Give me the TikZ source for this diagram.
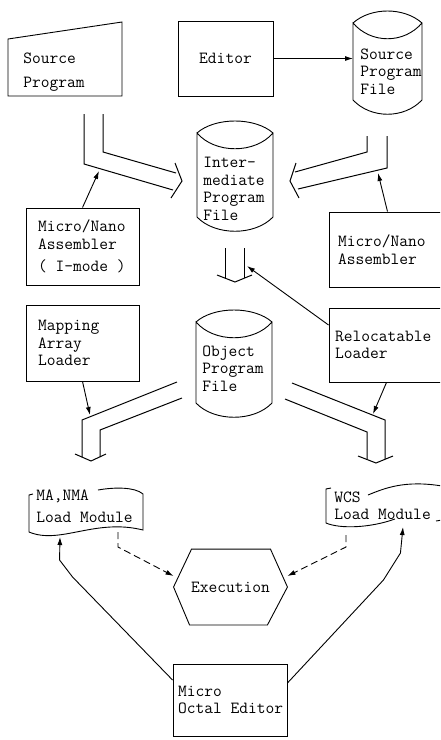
\documentclass[tikz,border=0pt]{standalone}
\usepackage{fontspec}
\usetikzlibrary{arrows.meta}
\hyphenpenalty=10000 \exhyphenpenalty=10000

\tikzset{
  box/.style={draw, align=flush left, inner ysep=0pt},
  txt/.style={anchor=north west, inner sep=0pt, align=left},
  flow/.style={-{Latex[length=8pt,width=5pt]}},
  ghost/.style={flow, dash pattern=on 7pt off 4pt},
  pipe/.style={line width=1pt}
}

% file drum: left x, right x, top of sides, bottom of sides
\newcommand{\drum}[4]{%
  \draw (#1,#3) .. controls +(18,-16) and +(-18,-16) .. (#2,#3)
    .. controls +(-18,21) and +(18,21) .. (#1,#3) -- (#1,#4)
    .. controls +(18,19) and +(-18,19) .. (#2,#4) -- (#2,#3);}

\begin{document}
\begin{tikzpicture}[x=1pt, y=-1pt, line width=0.9pt, font=\ttfamily\fontsize{17}{17.5}\selectfont]
\clip (0,0) rectangle (440,740);

% top row
\draw (8,39) -- (122,22) -- (122,96) -- (8,96) -- cycle;
\node[txt] (src) at (23,52) {Source\\[6.5pt]Program};
\node[box, minimum width=95pt, minimum height=75pt, align=center] (editor) at (225.5,58.5) {Editor};
\drum{353}{422}{23}{100}
\node[txt] (spf) at (360,48) {Source\\Program\\File};
\draw[flow] (editor.east) -- ([xshift=-7pt]editor.east -| spf.west);

% intermediate file and assemblers
\drum{197}{273}{133}{217}
\node[txt] (ipf) at (203,157) {Inter-\\mediate\\Program\\File};
\node[box, text width=89pt, inner xsep=12pt, minimum height=77pt] (asmI) at (82.5,246.5) {Micro/Nano\\Assembler\\[5pt](~I-mode~)};
\node[box, text width=99pt, inner xsep=9pt, minimum height=75pt] (asmR) at (387.5,249.5) {Micro/Nano\\Assembler};

\draw[pipe] (84,114) -- (84,164) -- (173,190);
\draw[pipe] (103,114) -- (103,152) -- (176,173);
\draw[pipe] (175,163) -- (182,181) -- (171,198);
\draw[pipe] (367,136) -- (367,152) -- (295,172);
\draw[pipe] (387,136) -- (387,168) -- (298,189);
\draw[pipe] (296,163) -- (290,181) -- (299,198);
\coordinate (lpipe) at (99,171);
\coordinate (rpipe) at (378,173);
\draw[flow] (asmI.north) -- (lpipe);
\draw[flow] (asmR.north) -- (rpipe);

% object file and loaders
\draw[pipe] (225,248) -- (225,278);
\draw[pipe] (244,248) -- (244,278);
\draw[pipe] (217,275) -- (235,282) -- (252,275);
\coordinate (mpipe) at (247,266);
\drum{196}{272}{322}{403}
\node[txt] (opf) at (202,345) {Object\\Program\\File};
\node[box, text width=89pt, inner xsep=12pt, minimum height=76pt] (mal) at (82.5,343) {Mapping\\Array\\Loader};
\node[box, text width=103pt, inner xsep=6pt, minimum height=74pt] (reloc) at (386.5,345) {Relocatable\\Loader};
\draw[flow] ([yshift=20pt]reloc.west) -- (mpipe);

\draw[pipe] (177,382) -- (82,420) -- (82,457);
\draw[pipe] (182,398) -- (100,430) -- (100,457);
\draw[pipe] (75,454) -- (91,461) -- (106,454);
\draw[pipe] (292,383) -- (385,420) -- (385,459);
\draw[pipe] (285,399) -- (367,432) -- (367,459);
\draw[pipe] (358,456) -- (376,463) -- (393,456);
\coordinate (blpipe) at (90,415);
\coordinate (brpipe) at (373,414);
\draw[flow] (mal.south) -- (blpipe);
\draw[flow] (reloc.south) -- (brpipe);

% load modules
\draw (33,494) -- (29,495) -- (29,532) .. controls (60,545) and (95,518) .. (143,530)
  -- (143,494) .. controls (135,487) and (115,487) .. (98,490);
\node[txt] (manma) at (36,489) {MA,NMA\\[5pt]Load Module};
\draw (331,488) -- (326,489) -- (326,523) .. controls (340,529) and (370,528) .. (395,519);
\draw (368,495) .. controls (385,488) and (405,480) .. (442,486) -- (442,520) -- (436,521);
\node[txt] (wcs) at (334,491) {WCS\\Load Module};
\coordinate (ma-out) at (118,532);
\coordinate (wcs-out) at (346,535);
\coordinate (ma-in) at (60,537);
\coordinate (wcs-in) at (403,527);

% execution
\node[minimum width=113pt, minimum height=75pt, inner sep=0pt] (exec) at (230.5,587) {Execution};
\draw (exec.west) -- ([xshift=18pt]exec.north west) -- ([xshift=-17pt]exec.north east) -- (exec.east)
  -- ([xshift=-20pt]exec.south east) -- ([xshift=16pt]exec.south west) -- cycle;
\draw[ghost] (ma-out) -- ++(0,15) -- ([yshift=11pt]exec.west);
\draw[ghost] (wcs-out) -- ++(0,12) -- ([yshift=11pt]exec.east);

% octal editor
\node[box, text width=104pt, inner xsep=5pt, minimum height=72pt] (moe) at (230,700) {Micro\\Octal~Editor};
\draw[flow] ([yshift=20pt]moe.west) -- ++(-100,-103) -- ++(-13,-17) -- (ma-in);
\draw[flow] ([yshift=17pt]moe.east) -- ++(96,-103) -- ++(17,-27) -- (wcs-in);
\end{tikzpicture}
\end{document}
